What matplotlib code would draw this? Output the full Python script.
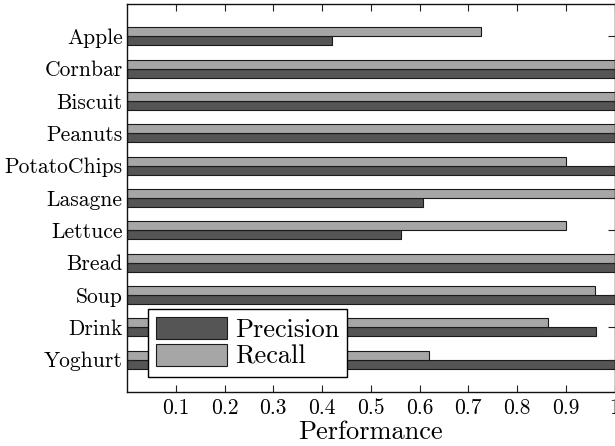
import matplotlib
matplotlib.use("Agg")
import matplotlib.pyplot as plt
import numpy as np

plt.rcParams["font.family"] = "serif"
plt.rcParams["font.serif"] = ["cmr10", "DejaVu Serif"]
plt.rcParams["axes.formatter.use_mathtext"] = True
plt.rcParams["mathtext.fontset"] = "cm"

categories = ["Apple", "Cornbar", "Biscuit", "Peanuts", "PotatoChips", "Lasagne",
              "Lettuce", "Bread", "Soup", "Drink", "Yoghurt"]
precision = [0.42, 1.0, 1.0, 1.0, 1.0, 0.607, 0.562, 1.0, 1.0, 0.962, 1.0]
recall = [0.727, 1.0, 1.0, 1.0, 0.9, 1.0, 0.9, 1.0, 0.96, 0.863, 0.619]
xticks = [0.1, 0.2, 0.3, 0.4, 0.5, 0.6, 0.7, 0.8, 0.9, 1.0]
xticklabels = ["0.1", "0.2", "0.3", "0.4", "0.5", "0.6", "0.7", "0.8", "0.9", "1"]

dark = "#555555"
light = "#a6a6a6"

fig = plt.figure(figsize=(6.15, 4.46), dpi=100)
ax = fig.add_axes([127 / 615, 1 - 392 / 446, 487.5 / 615, 388 / 446])

n = len(categories)
ypos = np.arange(n, 0, -1)
h = 0.27
ax.barh(ypos - 0.14, precision, height=h, color=dark, edgecolor="#1a1a1a",
        linewidth=0.8, label="Precision")
ax.barh(ypos + 0.14, recall, height=h, color=light, edgecolor="#1a1a1a",
        linewidth=0.8, label="Recall")

ax.set_xlim(0, 1)
ax.set_ylim(0, n + 1)
ax.set_yticks(ypos)
ax.set_yticklabels(categories, fontsize=15.5)
ax.set_xticks(xticks)
ax.set_xticklabels(xticklabels, fontsize=15.5)
ax.set_xlabel("Performance", fontsize=19, labelpad=1)

ax.tick_params(axis="both", direction="in", length=5, width=0.8,
               top=True, right=True, color="#222222")
ax.tick_params(axis="x", pad=5)
ax.tick_params(axis="y", pad=3)
for s in ax.spines.values():
    s.set_linewidth(1.0)
    s.set_color("#111111")

leg = ax.legend(loc="lower left", bbox_to_anchor=(0.043, 0.039), fontsize=19,
                handlelength=2.7, handleheight=0.87, fancybox=False, framealpha=1,
                edgecolor="black", borderpad=0.3, labelspacing=0.08,
                handletextpad=0.3, borderaxespad=0)
leg.get_frame().set_linewidth(1.0)

fig.savefig("out.png", dpi=100)
